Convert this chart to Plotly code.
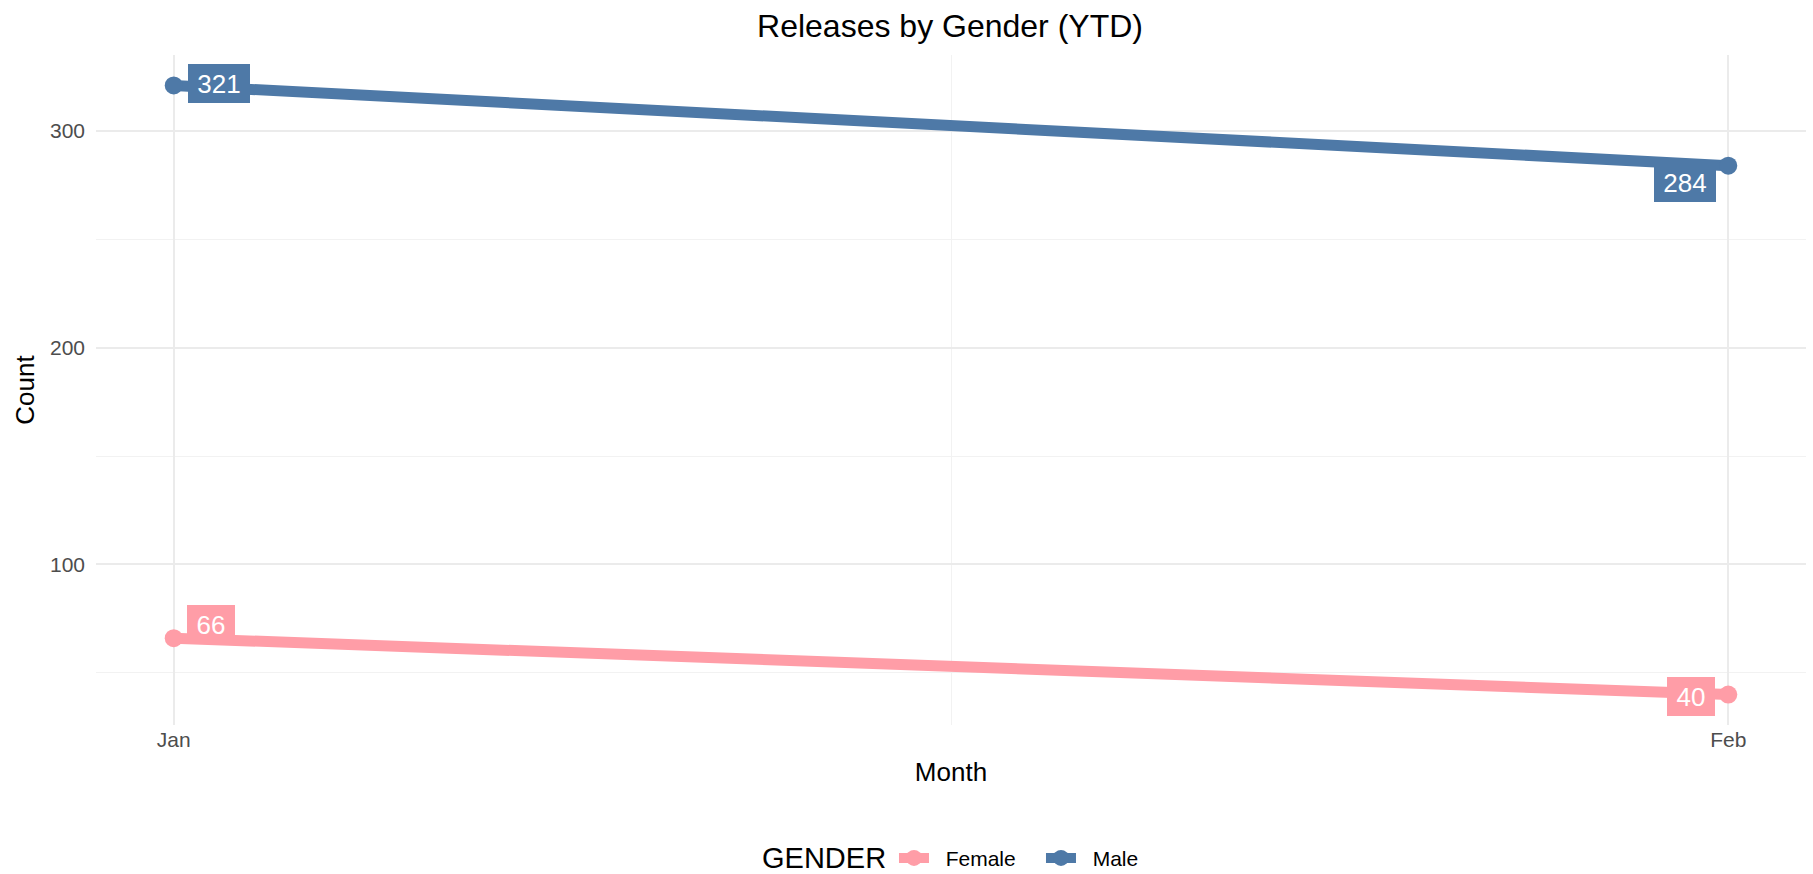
import plotly.graph_objects as go

months = ["Jan", "Feb"]
female_counts = [66, 40]
male_counts = [321, 284]
series_names = ["Female", "Male"]
series_colors = ["#FF9DA7", "#4E79A7"]
legend_title = "GENDER"
# label offsets in pixels (per point) relative to data point
label_offsets = {
    "Female": [(37, -14), (-37, 2)],
    "Male": [(45, -2), (-43, 17)],
}

xs = list(range(len(months)))
FONT = "Liberation Sans, Arial, sans-serif"
NB = "\u00a0\u00a0"

fig = go.Figure()
for name, vals, col in zip(series_names, [female_counts, male_counts], series_colors):
    fig.add_trace(go.Scatter(
        x=xs, y=vals, mode="lines+markers", name=NB + name,
        line=dict(color=col, width=11),
        marker=dict(color=col, size=18),
    ))
    for xi, v, (ax, ay) in zip(xs, vals, label_offsets[name]):
        fig.add_annotation(
            x=xi, y=v, text=str(v), showarrow=True, arrowcolor="rgba(0,0,0,0)",
            arrowwidth=0.1, ax=ax, ay=ay,
            font=dict(family=FONT, size=26, color="white"),
            width=(60 if v >= 100 else 46), height=37,
            bgcolor=col, bordercolor=col, borderwidth=1, borderpad=0,
        )

fig.add_annotation(
    text=legend_title, xref="paper", yref="paper", x=0.4632, y=-0.1985,
    xanchor="right", yanchor="middle", showarrow=False,
    font=dict(family=FONT, size=29, color="black"),
)

lo = min(female_counts + male_counts)
hi = max(female_counts + male_counts)
pad = (hi - lo) * 0.05

fig.update_layout(
    width=1813, height=874,
    paper_bgcolor="white", plot_bgcolor="white",
    margin=dict(l=96, r=7, t=55, b=149, autoexpand=False),
    font=dict(family=FONT, color="black"),
    title=dict(text="Releases by Gender (YTD)", x=0.524, xanchor="center",
               y=0.971, yanchor="middle", font=dict(size=32, color="black")),
    showlegend=True,
    legend=dict(orientation="h", x=0.4931, xanchor="left", xref="container",
                yref="container", y=0.018, yanchor="middle",
                font=dict(size=21, color="black"), itemwidth=30,
                entrywidth=102),
)
fig.update_xaxes(
    range=[-0.05, 1.05], tickvals=xs, ticktext=months, automargin=False,
    showgrid=True, gridcolor="#EBEBEB", gridwidth=2,
    minor=dict(dtick=0.5, tick0=0, showgrid=True, gridcolor="#F2F2F2", gridwidth=1),
    zeroline=False, showline=False, ticks="",
    tickfont=dict(size=21, color="#4D4D4D"),
    title=dict(text="Month", font=dict(size=26, color="black"), standoff=12),
)
fig.update_yaxes(
    range=[lo - pad, hi + pad], tickvals=[100, 200, 300], automargin=False,
    showgrid=True, gridcolor="#EBEBEB", gridwidth=2,
    minor=dict(tickvals=[50, 150, 250], showgrid=True, gridcolor="#F2F2F2", gridwidth=1),
    zeroline=False, showline=False, ticks="",
    ticklabelstandoff=10,
    tickfont=dict(size=21, color="#4D4D4D"),
    title=dict(text="Count", font=dict(size=26, color="black"), standoff=7),
)

fig.write_html(
    "out.html",
    config={"displayModeBar": False},
    post_script="document.body.style.margin='0px';document.body.style.overflow='hidden';",
)
